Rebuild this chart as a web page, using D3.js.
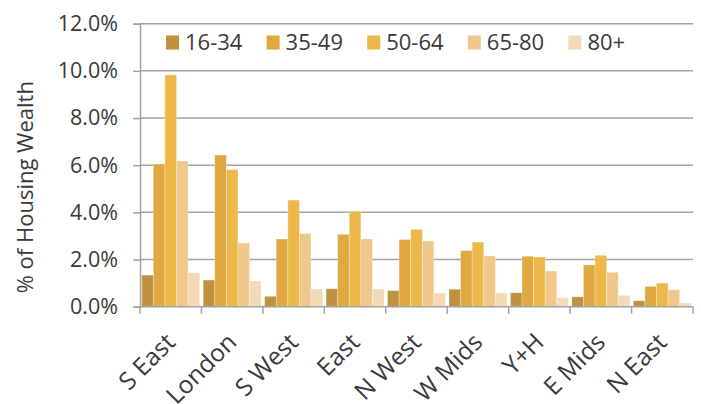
<!DOCTYPE html>
<html>
<head>
<meta charset="utf-8">
<script src="https://cdn.jsdelivr.net/npm/d3@7"></script>
<style>
  body { margin: 0; background: #fff; }
  text { font-family: "Open Sans", "Noto Sans", sans-serif; fill: #3a3a3a; }
</style>
</head>
<body>
<div id="chart"></div>
<script>
// Regions along the x axis
const regions = ["S East", "London", "S West", "East", "N West", "W Mids", "Y+H", "E Mids", "N East"];
// Age bands (series)
const ageBands = ["16-34", "35-49", "50-64", "65-80", "80+"];
const bandColors = ["#bf9140", "#e0a840", "#ecb84a", "#f1c88b", "#f4d9b6"];

// % of housing wealth, one array per age band, in region order
const v16_34 = [1.34, 1.13, 0.44, 0.76, 0.68, 0.74, 0.59, 0.42, 0.25];
const v35_49 = [6.05, 6.43, 2.87, 3.07, 2.85, 2.38, 2.14, 1.77, 0.86];
const v50_64 = [9.83, 5.81, 4.52, 4.04, 3.28, 2.74, 2.11, 2.18, 1.00];
const v65_80 = [6.18, 2.70, 3.10, 2.87, 2.79, 2.15, 1.51, 1.46, 0.72];
const v80plus = [1.44, 1.09, 0.75, 0.75, 0.58, 0.58, 0.38, 0.48, 0.16];

const yTicks = [0, 2, 4, 6, 8, 10, 12];

const seriesValues = [v16_34, v35_49, v50_64, v65_80, v80plus];

const width = 701, height = 404;
const margin = { top: 23.7, right: 8, bottom: 97.3, left: 140 };

const svg = d3.select("#chart")
    .append("svg")
    .attr("width", width)
    .attr("height", height);

const x = d3.scaleBand()
    .domain(regions)
    .range([margin.left, width - margin.right])
    .paddingInner(0)
    .paddingOuter(0);

const xInner = d3.scaleBand()
    .domain(ageBands)
    .range([0, x.bandwidth()])
    .paddingOuter(0.15)
    .paddingInner(0);

const y = d3.scaleLinear()
    .domain([0, 12])
    .range([height - margin.bottom, margin.top]);

// Gridlines
svg.append("g")
    .selectAll("line")
    .data(yTicks.slice(1))
    .join("line")
    .attr("x1", margin.left)
    .attr("x2", width - margin.right)
    .attr("y1", d => y(d))
    .attr("y2", d => y(d))
    .attr("stroke", "#a3a3a3")
    .attr("stroke-width", 1.5);

// Bars
const rows = regions.map((r, i) => ({
    region: r,
    values: ageBands.map((b, j) => ({ band: b, idx: j, value: seriesValues[j][i] }))
}));

svg.append("g")
    .selectAll("g")
    .data(rows)
    .join("g")
    .attr("transform", d => `translate(${x(d.region)},0)`)
    .selectAll("rect")
    .data(d => d.values)
    .join("rect")
    .attr("x", d => xInner(d.band))
    .attr("width", xInner.bandwidth())
    .attr("y", d => y(d.value))
    .attr("height", d => y(0) - y(d.value))
    .attr("fill", d => bandColors[d.idx])
    .attr("stroke", "#ffffff")
    .attr("stroke-opacity", 0.35)
    .attr("stroke-width", 0.8);

// Y axis
const yAxis = svg.append("g")
    .attr("transform", `translate(${margin.left},0)`)
    .call(d3.axisLeft(y).tickValues(yTicks).tickFormat(d => d.toFixed(1) + "%").tickSize(7).tickPadding(15));
yAxis.select(".domain").attr("stroke", "#a3a3a3").attr("stroke-width", 1.5);
yAxis.selectAll(".tick line").attr("stroke", "#a3a3a3").attr("stroke-width", 1.5);
yAxis.selectAll(".tick text")
    .style("font-size", "21.5px")
    .attr("fill", "#3a3a3a");

// X axis: baseline plus category boundary ticks
const xAxis = svg.append("g");
xAxis.append("line")
    .attr("x1", margin.left)
    .attr("x2", width - margin.right)
    .attr("y1", y(0))
    .attr("y2", y(0))
    .attr("stroke", "#a3a3a3")
    .attr("stroke-width", 1.5);
xAxis.selectAll(".bound")
    .data(regions.map(r => x(r)).concat([x(regions[regions.length - 1]) + x.bandwidth()]))
    .join("line")
    .attr("class", "bound")
    .attr("x1", d => d)
    .attr("x2", d => d)
    .attr("y1", y(0))
    .attr("y2", y(0) + 7)
    .attr("stroke", "#a3a3a3")
    .attr("stroke-width", 1.5);

xAxis.selectAll(".cat")
    .data(regions)
    .join("text")
    .attr("class", "cat")
    .attr("text-anchor", "end")
    .attr("transform", d => `translate(${x(d) + x.bandwidth() / 2 + 6},${y(0) + 37}) rotate(-45)`)
    .style("font-size", "24.5px")
    .text(d => d);

// Y axis title
svg.append("text")
    .attr("transform", `translate(33,${(margin.top + y(0)) / 2 + 22}) rotate(-90)`)
    .attr("text-anchor", "middle")
    .style("font-size", "22px")
    .text("% of Housing Wealth");

// Legend
const legend = svg.append("g")
    .selectAll("g")
    .data(ageBands)
    .join("g")
    .attr("transform", (d, i) => `translate(${166 + i * 100.6},35.5)`);
legend.append("rect")
    .attr("width", 13)
    .attr("height", 14)
    .attr("fill", (d, i) => bandColors[i]);
legend.append("text")
    .attr("x", 19)
    .attr("y", 7)
    .attr("dy", "0.36em")
    .style("font-size", "22px")
    .text(d => d);
</script>
</body>
</html>
